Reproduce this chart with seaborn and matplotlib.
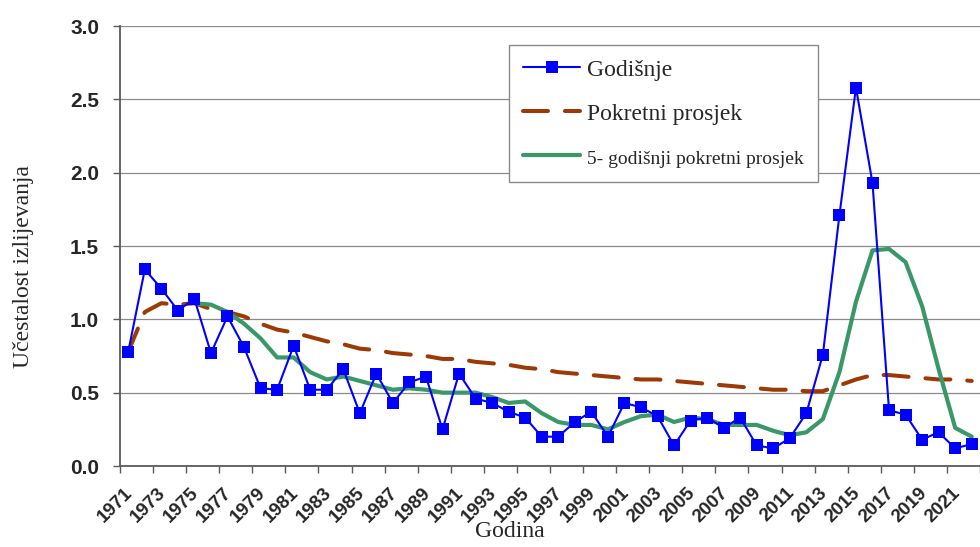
import numpy as np
import pandas as pd
import matplotlib
matplotlib.use("Agg")
import matplotlib.pyplot as plt
import matplotlib.transforms as mtransforms
import seaborn as sns


# =============================================================================
# Data
# =============================================================================

years = list(range(1971, 2023))

annual = [
    0.78, 1.34, 1.21, 1.06, 1.14, 0.77, 1.02, 0.81, 0.53, 0.52,
    0.82, 0.52, 0.52, 0.66, 0.36, 0.63, 0.43, 0.57, 0.61, 0.25,
    0.63, 0.46, 0.43, 0.37, 0.33, 0.20, 0.20, 0.30, 0.37, 0.20,
    0.43, 0.40, 0.34, 0.14, 0.31, 0.33, 0.26, 0.33, 0.14, 0.12,
    0.19, 0.36, 0.76, 1.71, 2.58, 1.93, 0.38, 0.35, 0.18, 0.23,
    0.12, 0.15,
]

moving_avg = [
    0.78, 1.05, 1.11, 1.10, 1.11, 1.07, 1.05, 1.02, 0.97, 0.93,
    0.91, 0.88, 0.85, 0.83, 0.80, 0.79, 0.77, 0.76, 0.75, 0.73,
    0.73, 0.71, 0.70, 0.69, 0.67, 0.66, 0.64, 0.63, 0.62, 0.61,
    0.60, 0.59, 0.59, 0.58, 0.57, 0.56, 0.55, 0.54, 0.53, 0.52,
    0.52, 0.51, 0.51, 0.55, 0.59, 0.62, 0.62, 0.61, 0.60, 0.59,
    0.59, 0.58,
]

ma5 = [
    np.nan, np.nan, np.nan, np.nan, 1.11, 1.10, 1.05, 0.97, 0.87, 0.74,
    0.74, 0.64, 0.59, 0.61, 0.58, 0.55, 0.52, 0.53, 0.52, 0.50,
    0.50, 0.50, 0.47, 0.43, 0.44, 0.36, 0.30, 0.28, 0.28, 0.25,
    0.30, 0.34, 0.35, 0.30, 0.33, 0.32, 0.28, 0.28, 0.28, 0.24,
    0.21, 0.23, 0.32, 0.64, 1.12, 1.47, 1.48, 1.39, 1.09, 0.66,
    0.26, 0.20,
]

labels = [
    "Godišnje",
    "Pokretni prosjek",
    "5- godišnji pokretni prosjek",
]

y_ticks = [0.0, 0.5, 1.0, 1.5, 2.0, 2.5, 3.0]


df = pd.DataFrame({
    "year": years,
    "annual": annual,
    "moving_avg": moving_avg,
    "ma5": ma5,
})


# =============================================================================
# Figure
# =============================================================================

sns.set_theme(style="white")

plt.rcParams["font.family"] = ["Liberation Serif", "DejaVu Serif"]

fig = plt.figure(
    figsize=(9.8, 5.47),
    dpi=100
)

ax = fig.add_axes(
    [120 / 980, 1 - 466 / 547, 860 / 980, 440 / 547]
)


sns.lineplot(
    data=df,
    x="year",
    y="moving_avg",
    ax=ax,
    color="#9c3a06",
    linewidth=2.9,
    linestyle=(0, (6.2, 4.2)),
    dash_capstyle="round",
    label=labels[1],
    zorder=3
)

sns.lineplot(
    data=df.dropna(subset=["ma5"]),
    x="year",
    y="ma5",
    ax=ax,
    color="#3a9868",
    linewidth=3.0,
    label=labels[2],
    zorder=4
)

sns.lineplot(
    data=df,
    x="year",
    y="annual",
    ax=ax,
    color="#0000ff",
    linewidth=1.5,
    marker="s",
    markersize=8,
    markeredgewidth=0,
    label=labels[0],
    zorder=5
)


# Axes limits, ticks, grid

ax.set_xlim(years[0] - 0.5, years[-1] + 0.02)
ax.set_ylim(y_ticks[0], y_ticks[-1])

ax.set_yticks(y_ticks)
ax.set_yticklabels([f"{v:.1f}" for v in y_ticks])

ax.set_xticks(np.arange(years[0] - 0.5, years[-1] + 1, 2))
ax.set_xticklabels([])
ax.set_xticks(years[::2], minor=True)
ax.set_xticklabels([str(y) for y in years[::2]], minor=True)

ax.grid(axis="y", color="#8a8a8a", linewidth=0.9)
ax.set_axisbelow(True)

for side in ["top", "right"]:
    ax.spines[side].set_visible(False)

for side in ["left", "bottom"]:
    ax.spines[side].set_color("#5a5a5a")
    ax.spines[side].set_linewidth(1.3)

ax.tick_params(
    axis="y",
    which="major",
    left=True,
    length=5,
    width=1,
    color="#5a5a5a",
    pad=10,
)

ax.tick_params(
    axis="x",
    which="major",
    bottom=True,
    length=5,
    width=1,
    color="#5a5a5a",
)

ax.tick_params(
    axis="x",
    which="minor",
    bottom=True,
    length=0,
    pad=13,
)

for lbl in ax.get_yticklabels():
    lbl.set_fontfamily("Liberation Sans")
    lbl.set_fontweight("bold")
    lbl.set_fontsize(15)

offset = mtransforms.ScaledTranslation(-4 / 100, 0, fig.dpi_scale_trans)

for lbl in ax.get_xticklabels(minor=True):
    lbl.set_fontfamily("Liberation Sans")
    lbl.set_fontweight("bold")
    lbl.set_fontsize(13.5)
    lbl.set_rotation(45)
    lbl.set_ha("right")
    lbl.set_va("top")
    lbl.set_rotation_mode("anchor")
    lbl.set_transform(lbl.get_transform() + offset)


# Axis labels

ax.set_xlabel("Godina", fontsize=17)
ax.set_ylabel("Učestalost izlijevanja", fontsize=17)

ax.xaxis.set_label_coords((510 - 120) / 860, (466 - 521) / 440)
ax.yaxis.set_label_coords((34 - 120) / 860, (466 - 267) / 440)


# Legend

handles, leg_labels = ax.get_legend_handles_labels()
order = [leg_labels.index(l) for l in labels]

leg = ax.legend(
    [handles[i] for i in order],
    [leg_labels[i] for i in order],
    loc="upper left",
    bbox_to_anchor=(509 / 980, 1 - 45 / 547),
    bbox_transform=fig.transFigure,
    fontsize=17,
    frameon=True,
    fancybox=False,
    framealpha=1,
    edgecolor="#8a8a8a",
    borderpad=0.6,
    handlelength=2.4,
    handletextpad=0.3,
    labelspacing=0.95,
    borderaxespad=0,
    numpoints=1,
)

leg.get_frame().set_linewidth(1.0)
leg.get_texts()[2].set_fontsize(14)


fig.savefig("out.png", dpi=100)
